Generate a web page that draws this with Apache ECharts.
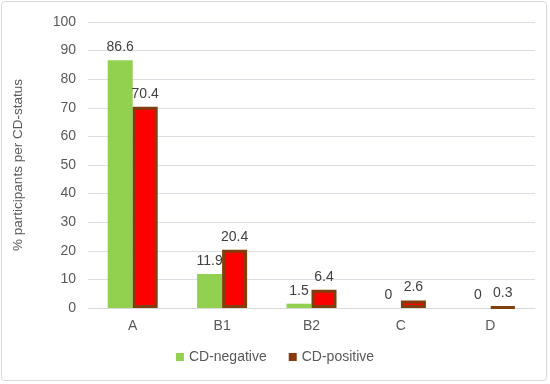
<!DOCTYPE html>
<html><head><meta charset="utf-8">
<script src="https://cdn.jsdelivr.net/npm/echarts@6/dist/echarts.min.js"></script>
<style>html,body{margin:0;padding:0;background:#fff}
#wrap{position:absolute;left:1px;top:1px;width:546px;height:380px;border:1px solid #d9d9d9;border-radius:4px;box-sizing:border-box}
#c{position:absolute;left:0;top:0;width:550px;height:384px}</style>
</head><body><div id="wrap"></div><div id="c"></div>
<script>
const categories = ['A','B1','B2','C','D'];
const cdNegative = [86.6, 11.9, 1.5, 0, 0];
const cdPositive = [70.4, 20.4, 6.4, 2.6, 0.3];
const yTicks = {min:0, max:100, interval:10};
const font = 'Liberation Sans, Arial, sans-serif';
const chart = echarts.init(document.getElementById('c'), null, {renderer:'canvas'});
chart.setOption({
  animation:false,
  grid:{left:88, right:15, top:22, bottom:76},
  legend:{bottom:15, left:'center', icon:'rect', itemWidth:8, itemHeight:8, itemGap:22,
    textStyle:{fontFamily:font, fontSize:14, color:'#595959'},
    data:[{name:'CD-negative', itemStyle:{color:'#92D050', borderWidth:0}},{name:'CD-positive', itemStyle:{color:'#8B3A0E', borderWidth:0}}]},
  xAxis:{type:'category', data:categories,
    axisLine:{lineStyle:{color:'#d9d9d9'}}, axisTick:{show:false},
    axisLabel:{fontFamily:font, fontSize:14, color:'#595959', margin:11}},
  yAxis:{type:'value', min:yTicks.min, max:yTicks.max, interval:yTicks.interval,
    name:'% participants per CD-status', nameLocation:'middle', nameGap:63,
    nameTextStyle:{fontFamily:font, fontSize:13.5, color:'#595959'},
    axisLine:{show:false}, axisTick:{show:false},
    axisLabel:{fontFamily:font, fontSize:14, color:'#595959', margin:12}},
  series:[
    {name:'CD-negative', type:'bar', data:cdNegative, barWidth:25, barGap:'0%',
      itemStyle:{color:'#92D050'},
      label:{show:true, position:'top', fontFamily:font, fontSize:14, color:'#404040', distance:6}},
    {name:'CD-positive', type:'bar', data:cdPositive, barWidth:25,
      itemStyle:{color:'#FF0000', borderColor:'#7F3F0F', borderWidth:3},
      label:{show:true, position:'top', fontFamily:font, fontSize:14, color:'#404040', distance:6}}
  ]
});
</script></body></html>
